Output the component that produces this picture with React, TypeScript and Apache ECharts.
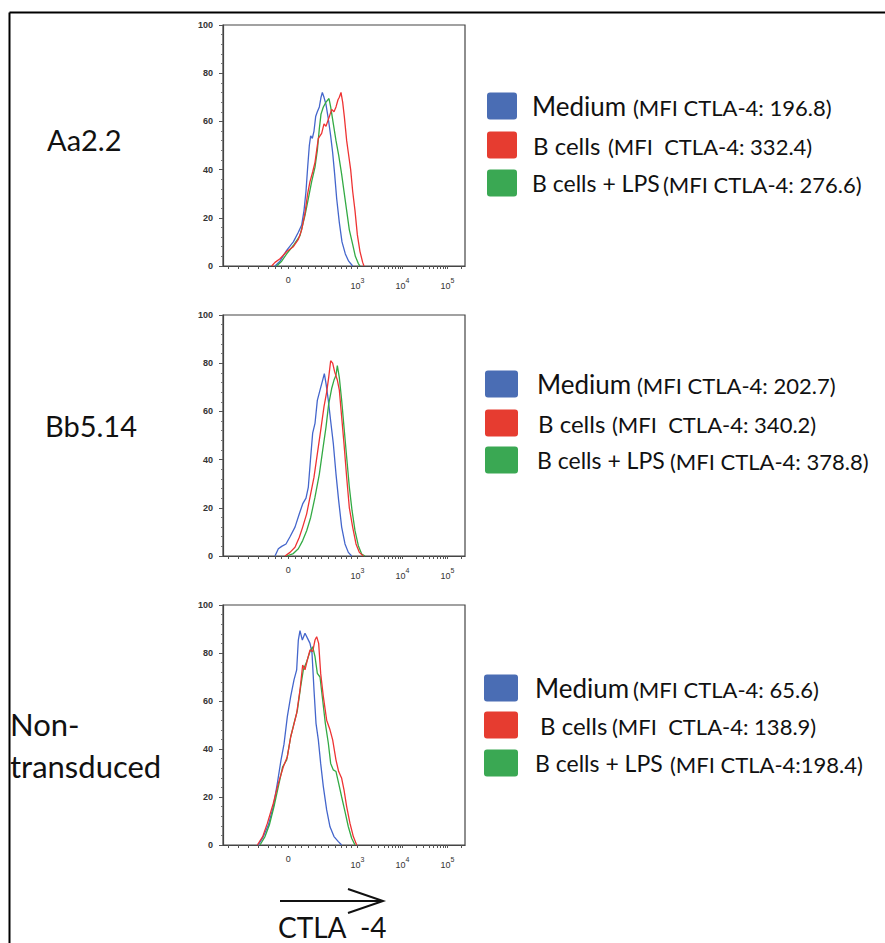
import React, { useEffect, useRef } from "react";
import * as echarts from "echarts";

// ---- data (x in display channel units of the biexponential axis, y = % of max) ----
const panelNames = ["Aa2.2", "Bb5.14", "Non-transduced"];
const seriesNames = ["Medium", "B cells", "B cells + LPS"];

const p1Medium = [[-40,0],[-25,2],[-5,6.5],[15,10],[30,14],[40,17],[47,23],[53,31],[58,41],[63,50],[67,54],[72,53],[77,56],[82,62],[87,64],[93,66],[98,70],[102,72],[107,70],[113,67],[120,61],[127,54],[133,47],[139,38],[145,28],[153,18],[161,10],[171,5],[181,2],[193,0]];
const p1Bcells = [[-50,0],[-40,1.5],[-25,3],[-5,6],[15,8],[30,11],[40,15],[50,22],[58,30],[65,35],[73,39],[80,43],[85,48],[90,53],[95,54],[100,55],[107,59],[113,58],[118,60],[123,62],[130,65],[137,64],[143,66],[149,69],[153,70],[158,72],[163,68],[168,62],[175,52],[180,47],[187,40],[193,31],[200,23],[207,13],[215,6],[223,1.5],[227,0]];
const p1Lps = [[-35,0],[-20,2],[-5,5],[15,8.5],[35,12.6],[50,21],[60,28],[70,35],[80,41],[87,48],[93,57],[98,63],[105,66],[113,68],[122,69.5],[127,66],[135,59],[143,52],[151,46],[160,38],[167,31],[175,23],[183,15],[193,9],[201,4],[210,1],[215,0]];

const p2Medium = [[-40,0],[-30,3],[-20,4],[-7,5],[5,8],[20,12],[33,17.5],[43,21.6],[53,24],[60,28.6],[67,41],[73,51],[80,55],[87,64.6],[95,68.8],[103,73],[108,75.7],[113,71.6],[120,64.6],[127,56],[135,46.6],[143,34],[151,23],[160,12],[170,5],[180,1.5],[190,0]];
const p2Bcells = [[-10,0],[5,1.5],[20,3.6],[33,7.8],[43,12],[55,17.5],[67,25.8],[77,32.7],[87,42.4],[97,52],[107,62],[115,68],[121,74],[127,81],[133,80],[139,76.4],[147,73],[153,68.8],[160,57.7],[167,46.6],[175,32.7],[183,20],[193,12],[203,5],[213,1.5],[225,0]];
const p2Lps = [[-5,0],[15,1],[30,3],[43,6.4],[55,10.5],[67,16],[80,24.4],[93,34],[103,43.8],[113,53.5],[121,63],[130,69.5],[137,73],[143,75],[147,79],[153,74],[160,64.6],[167,53.5],[175,41],[183,28.6],[191,19],[200,10.5],[210,4.3],[220,0.8],[230,0]];

const p3Medium = [[-90,0],[-75,3.5],[-60,8.3],[-45,16],[-33,25.7],[-22,35.4],[-13,42],[-3,53.5],[7,61.8],[17,68.8],[25,73],[30,85.4],[35,89.3],[42,85.4],[50,88.2],[58,86],[65,84],[71,80],[77,64.6],[83,50.7],[90,43.8],[97,34],[105,24.3],[115,14.6],[125,7.6],[137,3.5],[150,1.4],[160,0]];
const p3Bcells = [[-93,0],[-77,3.5],[-63,9],[-45,17.4],[-30,25.7],[-15,32.6],[-3,36.8],[7,45],[15,49.3],[25,54.9],[35,64.6],[43,75],[50,73],[57,77],[65,81.3],[73,80.6],[80,85.4],[85,86.8],[91,84],[97,71.5],[105,61.8],[115,52],[125,48],[133,43.8],[143,35.4],[151,30.6],[160,27.8],[167,23],[175,16],[185,9],[195,3.5],[205,0]];
const p3Lps = [[-85,0],[-70,3.5],[-57,8.3],[-43,16],[-30,24.3],[-17,32.6],[-5,35.4],[7,45],[17,50.7],[27,56],[37,66],[45,73],[55,76.4],[65,80.6],[73,82.6],[80,78.5],[87,71.5],[95,70],[103,60.4],[111,50.7],[120,42.4],[127,34],[135,31.3],[143,30.6],[151,25.7],[160,20],[170,13.9],[180,7.6],[190,2.8],[200,0]];

const panelData = [
  [p1Medium, p1Bcells, p1Lps],
  [p2Medium, p2Bcells, p2Lps],
  [p3Medium, p3Bcells, p3Lps],
];

const mfiLabels = [
  ["(MFI CTLA-4: 196.8)", "(MFI  CTLA-4: 332.4)", "(MFI CTLA-4: 276.6)"],
  ["(MFI CTLA-4: 202.7)", "(MFI  CTLA-4: 340.2)", "(MFI CTLA-4: 378.8)"],
  ["(MFI CTLA-4: 65.6)", "(MFI  CTLA-4: 138.9)", "(MFI CTLA-4:198.4)"],
];

// x axis tick labels (display positions and decade exponents)
const xLabelValues = [0, 207, 342, 477];
const xLabelExps = ["", "3", "4", "5"];
const xTickValues = [-180, -150, -120, -90, -60, -40, -20, 0, 20, 40, 60, 80, 100, 120, 140, 160, 175, 190, 207, 248, 271, 288, 301, 312, 321, 329, 336, 342, 383, 406, 423, 436, 447, 456, 464, 471, 477, 518];
const X_MIN = -196;
const X_MAX = 530;

// ---- styling / layout ----
const lineColors = ["#4466cc", "#ee3333", "#33aa44"];
const legendColors = ["#4a6db4", "#e63c30", "#3aa853"];
const gridTops = [25, 315, 605];
const gridHeights = [241, 241, 240];
const legendRowY = [
  [106, 145, 183],
  [384, 423, 460],
  [688, 725, 763],
];
const legendTextX = [
  [[532, 633], [533, 608], [532, 663]],
  [[537, 637], [538, 612], [537, 670]],
  [[535, 633], [540, 612], [535, 670]],
];
const legendNameSize = [26, 24, 23];
const legendRectX = [[487, 30], [485, 33], [484, 34]];

const FONT = "Lato, 'Open Sans', sans-serif";
const AXFONT = "'Liberation Sans', Arial, sans-serif";

export default function App() {
  const ref = useRef<HTMLDivElement>(null);

  useEffect(() => {
    if (!ref.current) return;
    const chart = echarts.init(ref.current, undefined, { renderer: "svg" });

    const grid = gridTops.map((t, i) => ({
      left: 223,
      top: t,
      width: 242,
      height: gridHeights[i],
      show: true,
      borderColor: "#444",
      borderWidth: 1.2,
      backgroundColor: "transparent",
    }));

    const xAxis = gridTops.map((_, i) => ({
      type: "value",
      gridIndex: i,
      min: X_MIN,
      max: X_MAX,
      splitLine: { show: false },
      axisLine: { show: true, onZero: false, lineStyle: { color: "#444", width: 1.2 } },
      axisTick: {
        show: true,
        customValues: xTickValues,
        inside: false,
        length: 3,
        lineStyle: { color: "#555", width: 1 },
      },
      axisLabel: {
        show: true,
        customValues: xLabelValues,
        margin: 4,
        formatter: (v: number) => {
          const idx = xLabelValues.indexOf(Math.round(v));
          if (idx <= 0) return "{z|0}";
          return "{b|10}{s|" + xLabelExps[idx] + "}";
        },
        rich: {
          z: { fontSize: 9, fontFamily: AXFONT, color: "#333", lineHeight: 20, verticalAlign: "middle" },
          b: { fontSize: 9, fontFamily: AXFONT, color: "#333", lineHeight: 20, verticalAlign: "bottom" },
          s: { fontSize: 7, fontFamily: AXFONT, color: "#333", lineHeight: 20, verticalAlign: "middle" },
        },
      },
    }));

    const yAxis = gridTops.map((_, i) => ({
      type: "value",
      gridIndex: i,
      min: 0,
      max: 100,
      interval: 20,
      splitLine: { show: false },
      axisLine: { show: true, onZero: false, lineStyle: { color: "#444", width: 1.2 } },
      axisTick: { show: true, length: 4, lineStyle: { color: "#555" } },
      minorTick: { show: true, splitNumber: 5, length: 2, lineStyle: { color: "#777" } },
      minorSplitLine: { show: false },
      axisLabel: { fontSize: 9, fontFamily: AXFONT, color: "#333", margin: 10, fontWeight: "bold" },
    }));

    const series: any[] = [];
    const drawOrder = [0, 2, 1];
    panelData.forEach((panel, i) => {
      drawOrder.forEach((k) => {
        series.push({
          type: "line",
          name: panelNames[i] + " " + seriesNames[k],
          xAxisIndex: i,
          yAxisIndex: i,
          data: panel[k],
          showSymbol: false,
          symbol: "none",
          smooth: false,
          lineStyle: { color: lineColors[k], width: 1.3 },
          z: 3,
        });
      });
    });

    const graphics: any[] = [];
    // frame lines
    graphics.push({ type: "line", shape: { x1: 9.5, y1: 12.5, x2: 885, y2: 12.5 }, style: { stroke: "#000", lineWidth: 2 } });
    graphics.push({ type: "line", shape: { x1: 9.5, y1: 12.5, x2: 9.5, y2: 943 }, style: { stroke: "#000", lineWidth: 2 } });

    // row labels
    const rowText = (text: string, x: number, y: number, size: number) => ({
      type: "text",
      x,
      y,
      style: { text, fontFamily: FONT, fontSize: size, fill: "#111", align: "left", verticalAlign: "middle" },
    });
    graphics.push(rowText("Aa2.2", 47, 139, 29));
    graphics.push(rowText("Bb5.14", 45, 425, 29));
    graphics.push(rowText("Non-", 10, 724, 31));
    graphics.push(rowText("transduced", 10, 766, 31));

    // legends
    legendRowY.forEach((rows, p) => {
      rows.forEach((cy, k) => {
        const [rx, rw] = legendRectX[p];
        graphics.push({
          type: "rect",
          shape: { x: rx, y: cy - 13.5, width: rw, height: 27, r: 3 },
          style: { fill: legendColors[k] },
        });
        const [tx1, tx2] = legendTextX[p][k];
        graphics.push({
          type: "text",
          x: tx1,
          y: cy,
          style: { text: seriesNames[k], fontFamily: FONT, fontSize: legendNameSize[k], fill: "#111", align: "left", verticalAlign: "middle" },
        });
        graphics.push({
          type: "text",
          x: tx2,
          y: cy + 1,
          style: { text: mfiLabels[p][k], fontFamily: FONT, fontSize: 22, fill: "#111", align: "left", verticalAlign: "middle" },
        });
      });
    });

    // CTLA-4 arrow and label
    graphics.push({ type: "line", shape: { x1: 280, y1: 901, x2: 383, y2: 901 }, style: { stroke: "#111", lineWidth: 2 } });
    graphics.push({ type: "polyline", shape: { points: [[348, 889], [383, 901], [348, 913]] }, style: { stroke: "#111", lineWidth: 2, fill: null } });
    graphics.push({
      type: "text",
      x: 278,
      y: 927,
      style: { text: "CTLA  -4", fontFamily: FONT, fontSize: 28, fill: "#111", align: "left", verticalAlign: "middle" },
    });

    chart.setOption({
      animation: false,
      backgroundColor: "#ffffff",
      grid,
      xAxis,
      yAxis,
      series,
      graphic: graphics,
    });

    return () => chart.dispose();
  }, []);

  return (
    <div
      ref={ref}
      style={{ position: "absolute", left: 0, top: 0, width: 885, height: 943 }}
    />
  );
}
